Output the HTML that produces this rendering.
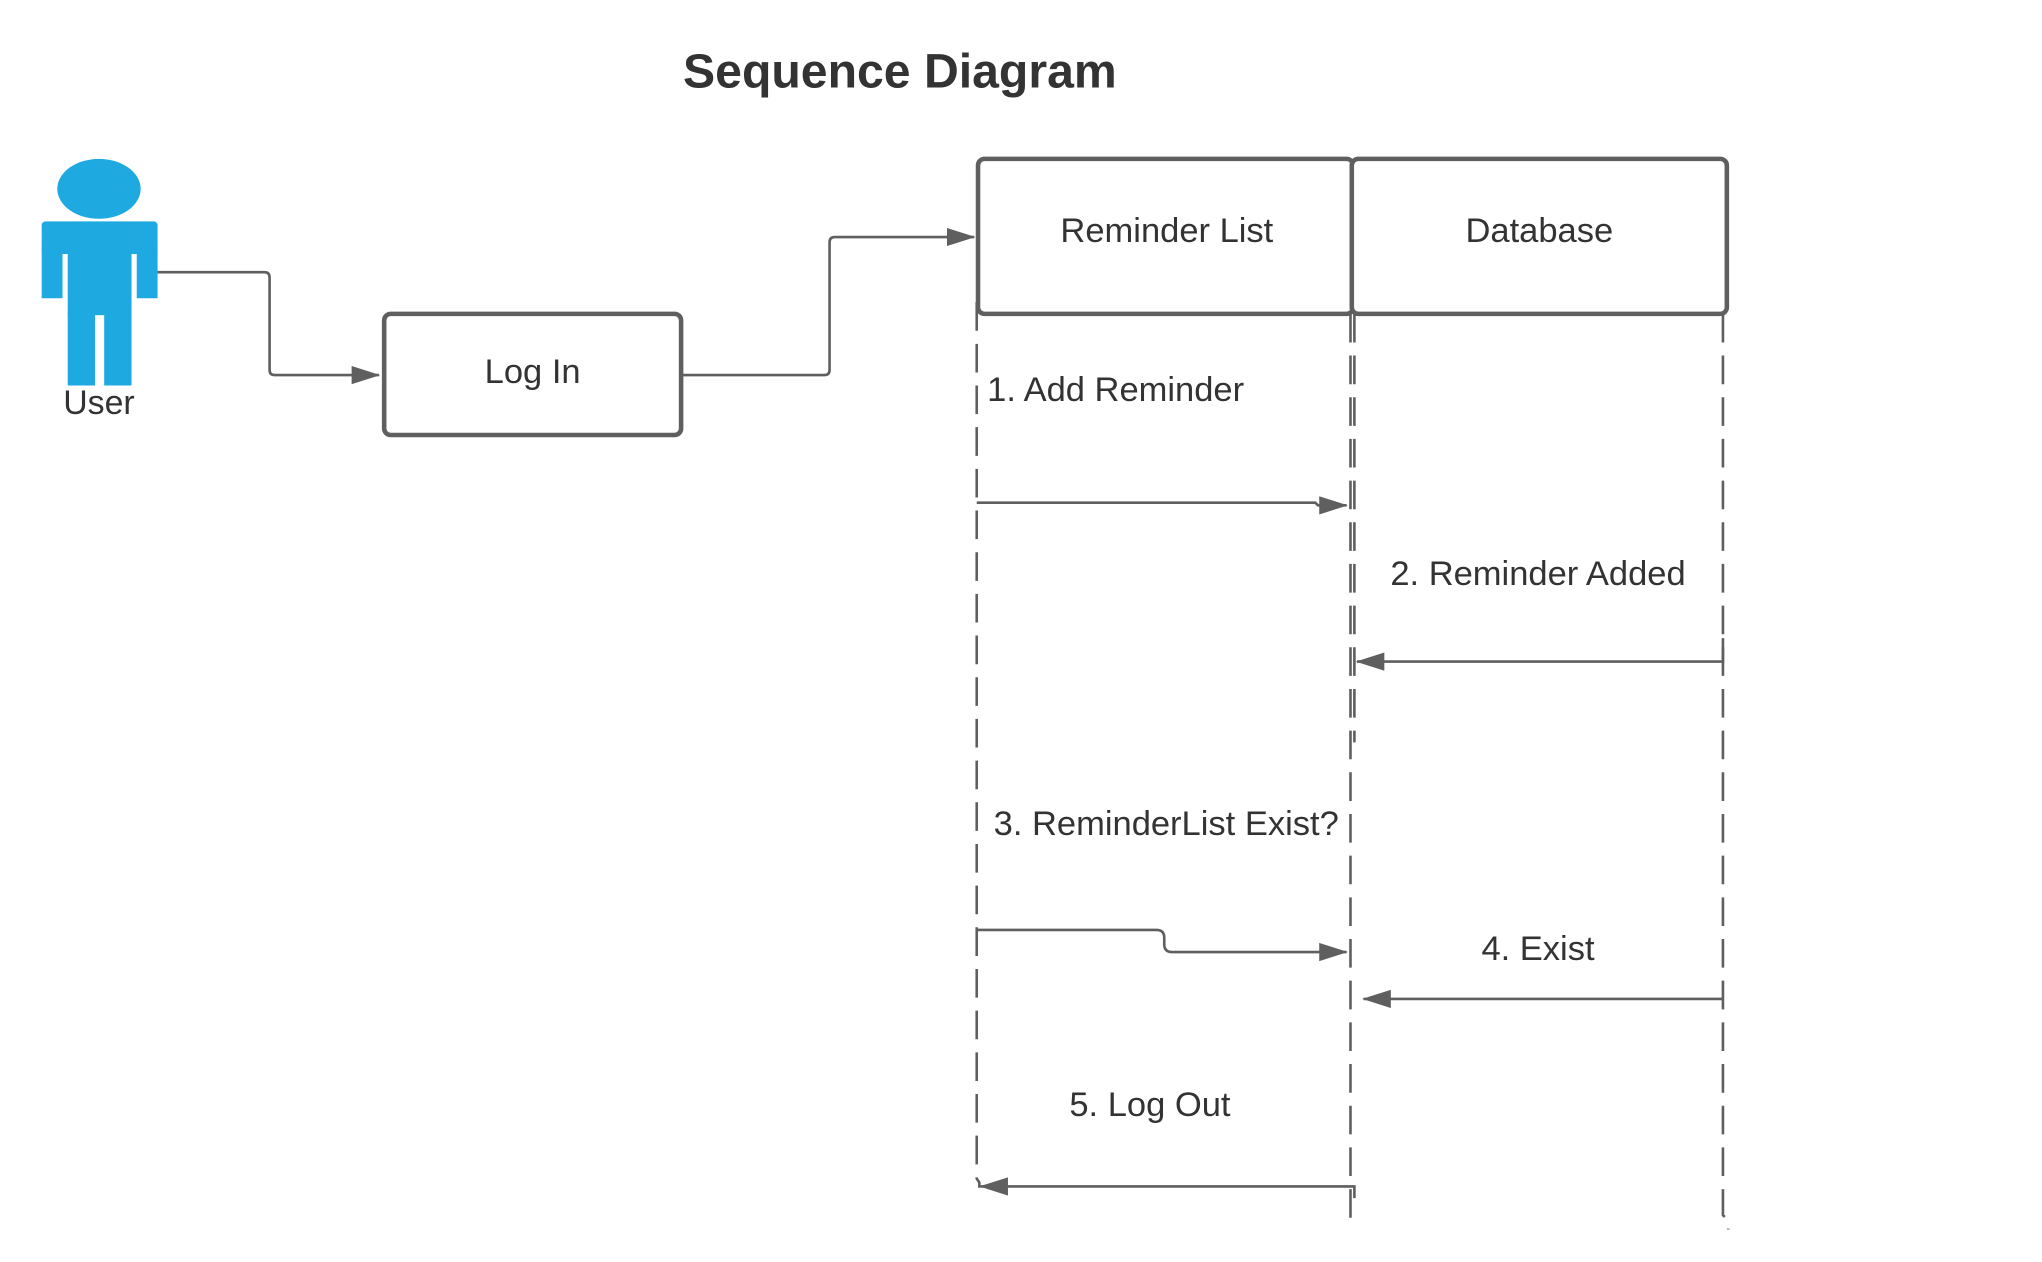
<!DOCTYPE html>
<html><head><meta charset="utf-8"><style>
html,body{margin:0;padding:0;background:#fff;}
svg{display:block;}
text{font-family:"Liberation Sans",sans-serif;fill:#333;}
</style></head><body>
<svg width="2042" height="1262" viewBox="0 0 1568 969" preserveAspectRatio="none" xmlns="http://www.w3.org/2000/svg">
<defs>
<marker id="ahb" markerWidth="22" markerHeight="14" refX="21" refY="7" orient="auto" markerUnits="userSpaceOnUse">
<path d="M0,0 L22,7 L0,14 Z" fill="#5f5f5f"/>
</marker>
</defs>
<text x="691" y="67" font-size="37" font-weight="bold" text-anchor="middle">Sequence Diagram</text>

<g fill="#1eaae0">
<ellipse cx="76" cy="145" rx="32" ry="23"/>
<rect x="32" y="170" width="89" height="25" rx="3"/>
<rect x="32" y="190" width="16" height="39"/>
<rect x="105" y="190" width="16" height="39"/>
<rect x="52" y="190" width="49" height="52"/>
<rect x="52" y="240" width="21" height="56"/>
<rect x="80" y="240" width="21" height="56"/>
</g>
<text x="76" y="318" font-size="26" text-anchor="middle">User</text>

<g fill="none" stroke="#5f5f5f" stroke-width="2">
<path d="M121,209 H203 Q207,209 207,213 V284 Q207,288 211,288 H291" marker-end="url(#ahb)"/>
<path d="M524,288 H633 Q637,288 637,284 V186 Q637,182 641,182 H748" marker-end="url(#ahb)"/>
</g>

<g fill="#fff" stroke="#5f5f5f" stroke-width="3.5">
<rect x="295" y="241" width="228" height="93" rx="5"/>
<rect x="751" y="122" width="288" height="119" rx="5"/>
<rect x="1038" y="122" width="288" height="119" rx="5"/>
</g>
<text x="409" y="294" font-size="26.5" text-anchor="middle">Log In</text>
<text x="896" y="186" font-size="26.5" text-anchor="middle">Reminder List</text>
<text x="1182" y="186" font-size="26.5" text-anchor="middle">Database</text>

<g fill="none" stroke="#5f5f5f" stroke-width="2" stroke-dasharray="22,10">
<path d="M750,232 V905 L752,908 V912"/>
<path d="M1037,241 V937"/>
<path d="M1040,241 V570"/>
<path d="M1323,241 V933 L1327,937 V944"/>
</g>

<text x="758" y="308" font-size="26.5">1. Add Reminder</text>
<text x="1181" y="449" font-size="26.5" text-anchor="middle">2. Reminder Added</text>
<text x="763" y="641" font-size="26.5">3. ReminderList Exist?</text>
<text x="1181" y="737" font-size="26.5" text-anchor="middle">4. Exist</text>
<text x="883" y="857" font-size="26.5" text-anchor="middle">5. Log Out</text>

<g fill="none" stroke="#5f5f5f" stroke-width="2">
<path d="M750,386 H1010 L1012,388 H1034" marker-end="url(#ahb)"/>
<path d="M1323,490 V508 H1042" marker-end="url(#ahb)"/>
<path d="M750,714 H888 Q894,714 894,720 V725 Q894,731 900,731 H1034" marker-end="url(#ahb)"/>
<path d="M1323,767 H1047" marker-end="url(#ahb)"/>
<path d="M1040,920 V911 H753" marker-end="url(#ahb)"/>
</g>
</svg>
</body></html>
